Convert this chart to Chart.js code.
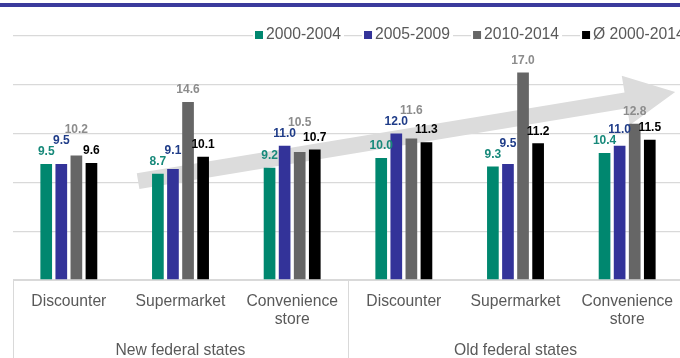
<!DOCTYPE html>
<html lang="en">
  <head>
    <meta charset="UTF-8" />
    <title>Price increases by store format</title>
    <script src="https://cdn.jsdelivr.net/npm/chart.js"></script>
    <style>
      html, body {
        margin: 0;
        padding: 0;
        background: #fff;
        overflow: hidden;
      }
      #wrap {
        width: 680px;
        height: 358px;
        overflow: hidden;
      }
    </style>
  </head>

  <body>
    <div id="wrap">
      <canvas id="storeChart" width="684" height="358"></canvas>
    </div>

    <script>
      const categories = ["Discounter", ["Supermarket"], ["Convenience", "store"],
                          "Discounter", ["Supermarket"], ["Convenience", "store"]];
      const groups = ["New federal states", "Old federal states"];
      const seriesNames = ["2000-2004", "2005-2009", "2010-2014", "Ø 2000-2014"];

      const v2000 = [9.5, 8.7, 9.2, 10.0, 9.3, 10.4];
      const v2005 = [9.5, 9.1, 11.0, 12.0, 9.5, 11.0];
      const v2010 = [10.2, 14.6, 10.5, 11.6, 17.0, 12.8];
      const vAvg = [9.6, 10.1, 10.7, 11.3, 11.2, 11.5];

      const barColors = ["#00876f", "#333399", "#666666", "#000000"];
      const labelColors = ["#17897a", "#1f3c88", "#8c8c8c", "#000000"];
      const textGray = "#595959";
      const lineGray = "#d9d9d9";
      const fontFamily = "'Liberation Sans', Arial, sans-serif";

      // grey trend arrow in the background, given in scale units
      const arrow = { x0: 0.62, y0: 8.1, x1: 5.43, y1: 15.4 };

      const decorations = {
        id: "decorations",
        beforeDraw(chart) {
          const c = chart.ctx;
          c.save();
          c.fillStyle = "#3a3a9c";
          c.fillRect(0, 3, chart.width, 4);
          c.restore();
        },
        beforeDatasetsDraw(chart) {
          const c = chart.ctx;
          const xs = chart.scales.x, ys = chart.scales.y;
          const ax = xs.getPixelForValue(arrow.x0), ay = ys.getPixelForValue(arrow.y0);
          const bx = xs.getPixelForValue(arrow.x1), by = ys.getPixelForValue(arrow.y1);
          const len = Math.hypot(bx - ax, by - ay);
          const ux = (bx - ax) / len, uy = (by - ay) / len;
          const px = -uy, py = ux;
          const shaft = 8, head = 25, headLen = 50;
          const hx = bx - ux * headLen, hy = by - uy * headLen;
          c.save();
          c.fillStyle = "#dcdcdc";
          c.beginPath();
          c.moveTo(ax + px * shaft, ay + py * shaft);
          c.lineTo(hx + px * shaft, hy + py * shaft);
          c.lineTo(hx + px * head, hy + py * head);
          c.lineTo(bx, by);
          c.lineTo(hx - px * head, hy - py * head);
          c.lineTo(hx - px * shaft, hy - py * shaft);
          c.lineTo(ax - px * shaft, ay - py * shaft);
          c.closePath();
          c.fill();
          c.restore();
        },
        afterDatasetsDraw(chart) {
          // value labels above the bars, lifted when they run into a neighbour
          const c = chart.ctx;
          c.save();
          c.font = "bold 12px " + fontFamily;
          c.textAlign = "center";
          c.textBaseline = "middle";
          const n = chart.data.labels.length;
          for (let j = 0; j < n; j++) {
            const placed = [];
            chart.data.datasets.forEach((ds, i) => {
              const bar = chart.getDatasetMeta(i).data[j];
              const txt = ds.data[j].toFixed(1);
              const hw = c.measureText(txt).width / 2;
              let y = bar.y - 12;
              let moved = true;
              while (moved) {
                moved = false;
                for (const p of placed) {
                  const hOver = Math.min(bar.x + hw, p.x + p.hw) - Math.max(bar.x - hw, p.x - p.hw);
                  const vOver = Math.min(y + 5, p.y + 5) - Math.max(y - 5, p.y - 5);
                  if (hOver > 0 && vOver > 0) {
                    y = p.y - 11;
                    moved = true;
                  }
                }
              }
              placed.push({ x: bar.x, y: y, hw: hw });
              c.fillStyle = labelColors[i];
              c.fillText(txt, bar.x, y);
            });
          }
          c.restore();
        },
        afterDraw(chart) {
          const c = chart.ctx;
          const area = chart.chartArea;
          // group separators below the axis
          c.save();
          c.strokeStyle = lineGray;
          c.lineWidth = 1;
          const step = (area.right - area.left) / categories.length;
          [0, 3, 6].forEach((k) => {
            const x = Math.round(area.left + k * step) + 0.5;
            c.beginPath();
            c.moveTo(x, area.bottom);
            c.lineTo(x, chart.height);
            c.stroke();
          });
          // legend
          c.font = "15.7px " + fontFamily;
          c.textBaseline = "middle";
          c.textAlign = "left";
          let x = area.left + 242;
          const y = 35;
          chart.data.datasets.forEach((ds, i) => {
            const w = c.measureText(ds.label).width;
            c.fillStyle = "#fff";
            c.fillRect(x - 2, y - 8, w + 16, 16);
            c.fillStyle = barColors[i];
            c.fillRect(x, y - 4, 8, 8);
            c.fillStyle = textGray;
            c.fillText(ds.label, x + 11, y);
            x += w + 11 + 23;
          });
          c.restore();
        },
      };

      const dataSets = [v2000, v2005, v2010, vAvg].map((vals, i) => ({
        label: seriesNames[i],
        data: vals,
        backgroundColor: barColors[i],
        borderWidth: 0,
        categoryPercentage: 0.54,
        barPercentage: 0.775,
      }));

      const ctx = document.getElementById("storeChart").getContext("2d");
      const storeChart = new Chart(ctx, {
        type: "bar",
        data: {
          labels: categories,
          datasets: dataSets,
        },
        options: {
          responsive: false,
          animation: false,
          layout: {
            padding: { left: 13, right: 1, top: 36, bottom: 0 },
          },
          plugins: {
            legend: { display: false },
            tooltip: { enabled: false },
          },
          scales: {
            x: {
              position: "bottom",
              weight: 0,
              grid: { display: false },
              border: { display: true, color: lineGray, width: 1 },
              ticks: {
                color: textGray,
                font: { family: fontFamily, size: 15.7, lineHeight: 1.13 },
                padding: 5,
                maxRotation: 0,
                autoSkip: false,
              },
              afterFit(scale) {
                scale.height = 48;
              },
            },
            x2: {
              type: "category",
              labels: groups,
              position: "bottom",
              weight: 1,
              offset: true,
              grid: { display: false },
              border: { display: false },
              ticks: {
                color: textGray,
                font: { family: fontFamily, size: 15.7 },
                padding: 5,
                maxRotation: 0,
              },
              afterFit(scale) {
                scale.height = 30;
              },
            },
            y: {
              min: 0,
              max: 20,
              ticks: { display: false, stepSize: 4 },
              border: { display: false },
              grid: { color: lineGray, lineWidth: 1.3, drawTicks: false },
            },
          },
        },
        plugins: [decorations],
      });
    </script>
  </body>
</html>
